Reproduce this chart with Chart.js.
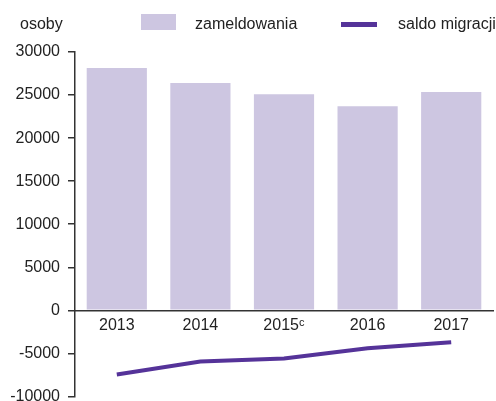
<!DOCTYPE html>
<html>
<head>
<meta charset="utf-8">
<script src="https://cdn.jsdelivr.net/npm/chart.js@4/dist/chart.umd.min.js"></script>
<style>
  html, body { margin: 0; padding: 0; background: #fff; }
  #wrap { position: relative; width: 496px; height: 401px; overflow: hidden; font-family: "Liberation Sans", Arial, sans-serif; color: #222; }
  #chart { position: absolute; left: 0; top: 0; }
  .lbl { position: absolute; font-size: 16px; line-height: 16px; white-space: nowrap; }
  .swatch { position: absolute; }
</style>
</head>
<body>
<div id="wrap">
  <canvas id="chart" width="496" height="414"></canvas>
  <div class="lbl" style="left:20px; top:16px;">osoby</div>
  <div class="swatch" style="left:141px; top:14px; width:35px; height:16px; background:#cdc6e1;"></div>
  <div class="lbl" style="left:195px; top:16px;">zameldowania</div>
  <div class="swatch" style="left:341px; top:22px; width:36px; height:5px; background:#553399;"></div>
  <div class="lbl" style="left:398px; top:16px;">saldo migracji</div>
</div>
<script>
// dane
const years = ["2013", "2014", "2015ᶜ", "2016", "2017"];
const zameldowania = [28150, 26400, 25100, 23700, 25350];
const saldoMigracji = [-7450, -5950, -5600, -4400, -3700];
const yTicks = [30000, 25000, 20000, 15000, 10000, 5000, 0, -5000, -10000];

const barColor = "#cdc6e1";
const lineColor = "#553399";
const axisColor = "#333333";
const textColor = "#222222";

Chart.defaults.font.family = '"Liberation Sans", Arial, sans-serif';
Chart.defaults.font.size = 16;
Chart.defaults.color = textColor;

new Chart(document.getElementById("chart").getContext("2d"), {
  data: {
    labels: years,
    datasets: [
      {
        type: "line",
        label: "saldo migracji",
        data: saldoMigracji,
        borderColor: lineColor,
        borderWidth: 4,
        pointRadius: 0,
        tension: 0,
        order: 0,
      },
      {
        type: "bar",
        label: "zameldowania",
        data: zameldowania,
        backgroundColor: barColor,
        borderWidth: 0,
        categoryPercentage: 1,
        barPercentage: 0.72,
        order: 1,
      },
    ],
  },
  options: {
    responsive: false,
    animation: false,
    layout: { padding: { top: 52, right: 3, bottom: 0, left: 0 } },
    plugins: {
      legend: { display: false },
      tooltip: { enabled: false },
    },
    scales: {
      x: {
        position: { y: 0 },
        grid: { display: false, drawTicks: false },
        border: { display: true, color: axisColor, width: 1.5 },
        ticks: { padding: 6, maxRotation: 0, autoSkip: false },
        afterFit: (scale) => { scale.height = 0; },
      },
      y: {
        min: -10000,
        max: 30000,
        afterBuildTicks: (scale) => {
          scale.ticks = yTicks.map((v) => ({ value: v }));
        },
        grid: {
          drawOnChartArea: false,
          drawTicks: true,
          tickLength: 7,
          color: axisColor,
          lineWidth: 1.5,
        },
        border: { display: true, color: axisColor, width: 1.5 },
        ticks: { padding: 8, callback: (v) => String(v) },
        afterFit: (scale) => { scale.width = 75; },
      },
    },
  },
});
</script>
</body>
</html>
